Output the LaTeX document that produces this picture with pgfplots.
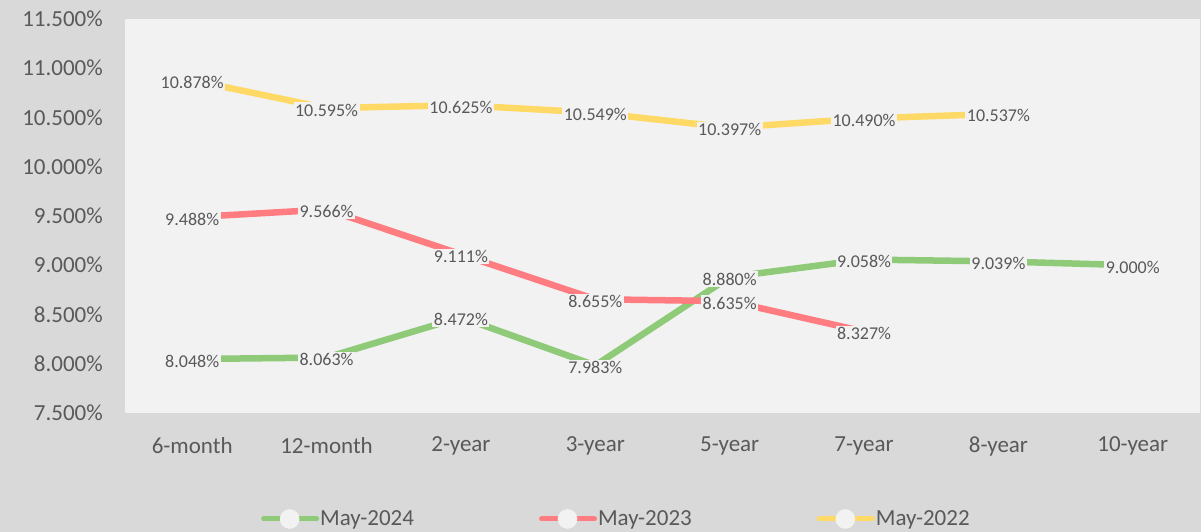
\documentclass[border=0pt]{standalone}
\usepackage{pgfplots}
\pgfplotsset{compat=1.18}
\usepackage{fontspec}
\setmainfont{Carlito}
\definecolor{bgc}{HTML}{D9D9D9}
\definecolor{plotc}{HTML}{F2F2F2}
\definecolor{txtc}{HTML}{595959}
\definecolor{gser}{HTML}{8FCA78}
\definecolor{rser}{HTML}{FF7C80}
\definecolor{yser}{HTML}{FFD966}
\pgfplotstableread{
x y
0 8.048
1 8.063
2 8.472
3 7.983
4 8.880
5 9.058
6 9.039
7 9.000
}\tblA
\pgfplotstableread{
x y
0 9.488
1 9.566
2 9.111
3 8.655
4 8.635
5 8.327
}\tblB
\pgfplotstableread{
x y
0 10.878
1 10.595
2 10.625
3 10.549
4 10.397
5 10.490
6 10.537
}\tblC
\begin{document}
\begin{tikzpicture}[x=1pt,y=1pt]
\fill[bgc] (0,0) rectangle (1201,532);
\begin{axis}[
  at={(125pt,119pt)}, anchor=south west,
  scale only axis, width=1075pt, height=394pt,
  xmin=-0.5, xmax=7.5, ymin=7.5, ymax=11.5,
  clip=false,
  axis background/.style={fill=plotc},
  axis line style={draw=none},
  tick style={draw=none},
  /pgf/number format/assume math mode=true,
  ytick={7.5,8.0,8.5,9.0,9.5,10.0,10.5,11.0,11.5},
  yticklabel={\pgfmathprintnumber[fixed,fixed zerofill,precision=3]{\tick}\%},
  yticklabel style={font=\fontsize{23}{26}\selectfont, text=txtc, anchor=east, inner sep=0pt, xshift=-22pt},
  xtick={0,...,7},
  xticklabels={6-month,12-month,2-year,3-year,5-year,7-year,8-year,10-year},
  xticklabel style={font=\fontsize{23}{26}\selectfont, text=txtc, anchor=center, inner sep=0pt, yshift=-33pt},
  legend style={at={(0.4567,-0.269)}, anchor=center, draw=none, fill=none,
    legend columns=3, font=\fontsize{23}{26}\selectfont, text=txtc,
    /tikz/every even column/.append style={column sep=124pt},
    nodes={inner sep=1pt}},
  legend image code/.code={
    \draw[#1, line width=5pt, line cap=round] (2pt,0pt) -- (55pt,0pt);
    \fill[plotc] (28pt,0pt) circle (6.5pt);},
  every node near coord/.append style={anchor=center, fill=plotc, inner sep=1.5pt, yshift=-2pt,
    font=\fontsize{18}{20}\selectfont, text=txtc},
]
\addplot[gser, line width=6.5pt, mark=none] table[x=x,y=y] {\tblA};
\addlegendentry{May-2024}
\addplot[rser, line width=6.5pt, mark=none] table[x=x,y=y] {\tblB};
\addlegendentry{May-2023}
\addplot[yser, line width=6.5pt, mark=none] table[x=x,y=y] {\tblC};
\addlegendentry{May-2022}
\addplot[forget plot, draw=none, mark=none, point meta=explicit symbolic, nodes near coords={\pgfplotspointmeta\%}] table[x=x,y=y,meta=y] {\tblA};
\addplot[forget plot, draw=none, mark=none, point meta=explicit symbolic, nodes near coords={\pgfplotspointmeta\%}] table[x=x,y=y,meta=y] {\tblB};
\addplot[forget plot, draw=none, mark=none, point meta=explicit symbolic, nodes near coords={\pgfplotspointmeta\%}] table[x=x,y=y,meta=y] {\tblC};
\end{axis}
\end{tikzpicture}
\end{document}
